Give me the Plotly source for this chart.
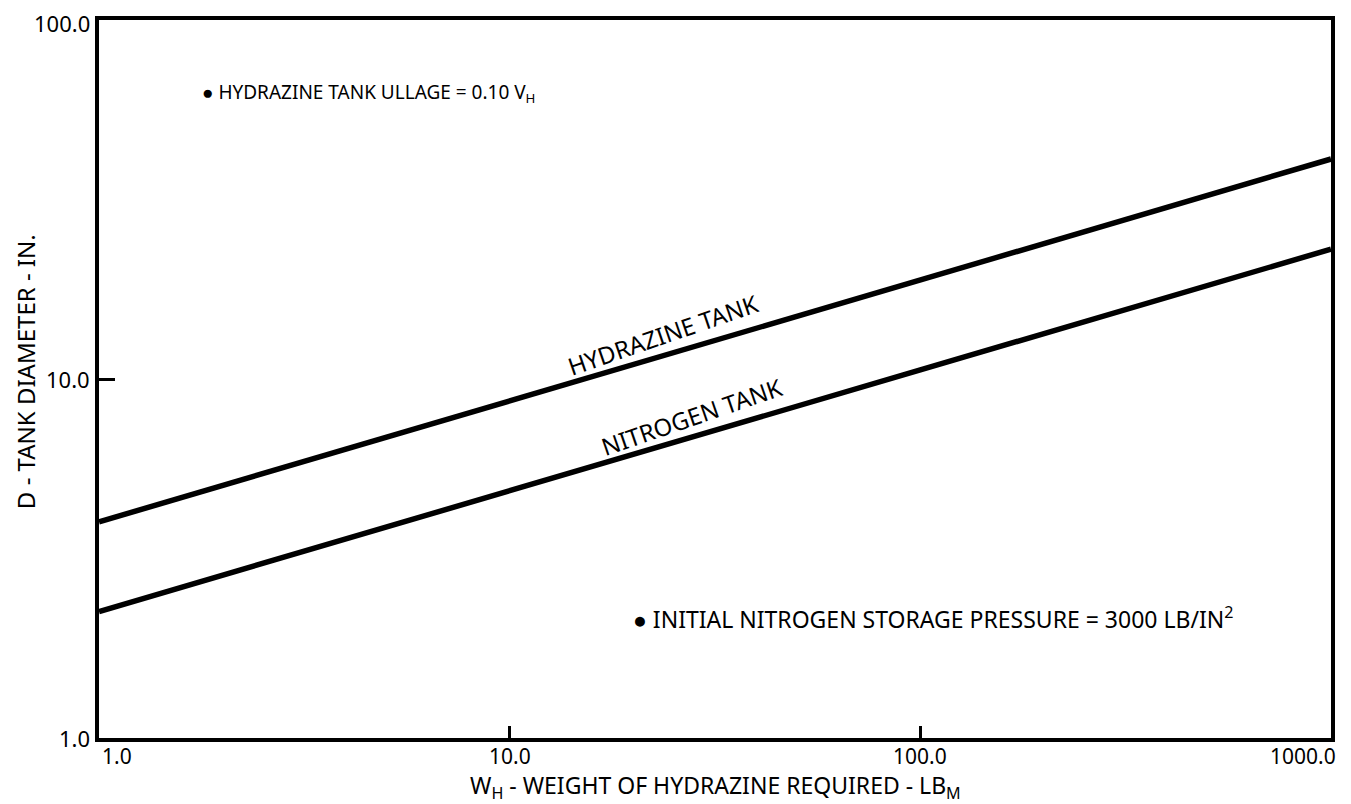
import math
import plotly.graph_objects as go

# weight of hydrazine required, lb
weight_lb = [1.0, 10.0, 100.0, 1000.0]
# tank diameters, in
hydrazine_dia = [4.0, 8.7, 19.0, 41.0]
nitrogen_dia = [2.25, 4.9, 10.6, 23.0]

x_ticks = [1.0, 10.0, 100.0, 1000.0]
x_tick_text = ["1.0", "10.0", "100.0", "1000.0"]
y_ticks = [1.0, 10.0, 100.0]
y_tick_text = ["1.0", "10.0", "100.0"]

FONT = "Noto Sans"

fig = go.Figure()
for ys in (hydrazine_dia, nitrogen_dia):
    fig.add_trace(go.Scatter(
        x=weight_lb, y=ys, mode="lines",
        line=dict(color="black", width=5.5),
        showlegend=False, hoverinfo="skip",
    ))

notes = []
# tick labels as annotations so the outer ones stay inside the page
anchors = ["left", "center", "center", "right"]
shifts = [2, 0, 0, 6]
for v, t, a, s in zip(x_ticks, x_tick_text, anchors, shifts):
    notes.append(dict(x=math.log10(v), y=0, xref="x", yref="paper", text=t,
                      showarrow=False, xanchor=a, yanchor="top", yshift=-3,
                      xshift=s, borderpad=0, font=dict(size=21)))
for v, t in zip(y_ticks, y_tick_text):
    notes.append(dict(x=0, y=math.log10(v), xref="paper", yref="y", text=t,
                      showarrow=False, xanchor="right", yanchor="middle",
                      xshift=-8, yshift=-3 if v == 100.0 else 0,
                      borderpad=0, font=dict(size=22)))

notes += [
    dict(x=0.5, y=-0.042, xref="paper", yref="paper", xanchor="center",
         yanchor="top", borderpad=0,
         text="W<sub>H</sub> - WEIGHT OF HYDRAZINE REQUIRED - LB<sub>M</sub>",
         showarrow=False, font=dict(size=23)),
    dict(x=-0.059, y=0.51, xref="paper", yref="paper", xanchor="center",
         yanchor="middle", textangle=-90, borderpad=0,
         text="D - TANK DIAMETER - IN.", showarrow=False, font=dict(size=24)),
    dict(x=0.245, y=1.798, xref="x", yref="y", xanchor="left",
         text="\u25cf HYDRAZINE TANK ULLAGE = 0.10 V<sub>H</sub>",
         showarrow=False, font=dict(size=19)),
    dict(x=1.295, y=0.335, xref="x", yref="y", xanchor="left",
         text="\u25cf INITIAL NITROGEN STORAGE PRESSURE = 3000 LB/IN<sup>2</sup>",
         showarrow=False, font=dict(size=23)),
    dict(x=1.373, y=1.125, xref="x", yref="y", textangle=-19,
         xanchor="center", yanchor="middle",
         text="HYDRAZINE TANK", showarrow=False, font=dict(size=24)),
    dict(x=1.443, y=0.895, xref="x", yref="y", textangle=-19,
         xanchor="center", yanchor="middle",
         text="NITROGEN TANK", showarrow=False, font=dict(size=24)),
]

fig.update_layout(
    width=1343, height=796,
    margin=dict(l=91, r=20, t=12, b=66),
    paper_bgcolor="white", plot_bgcolor="white",
    font=dict(family=FONT, color="black", size=22),
    annotations=notes,
    xaxis=dict(type="log", range=[0, 3], tickvals=x_ticks, showticklabels=False,
               ticks="inside", ticklen=12, tickwidth=3, tickcolor="black",
               showgrid=False, zeroline=False, automargin=False,
               showline=True, linewidth=4, linecolor="black", mirror=True),
    yaxis=dict(type="log", range=[0, 2], tickvals=y_ticks, showticklabels=False,
               ticks="inside", ticklen=16, tickwidth=3, tickcolor="black",
               automargin=False, showgrid=False, zeroline=False,
               showline=True, linewidth=4, linecolor="black", mirror=True),
)

fig.write_html("out.html")
